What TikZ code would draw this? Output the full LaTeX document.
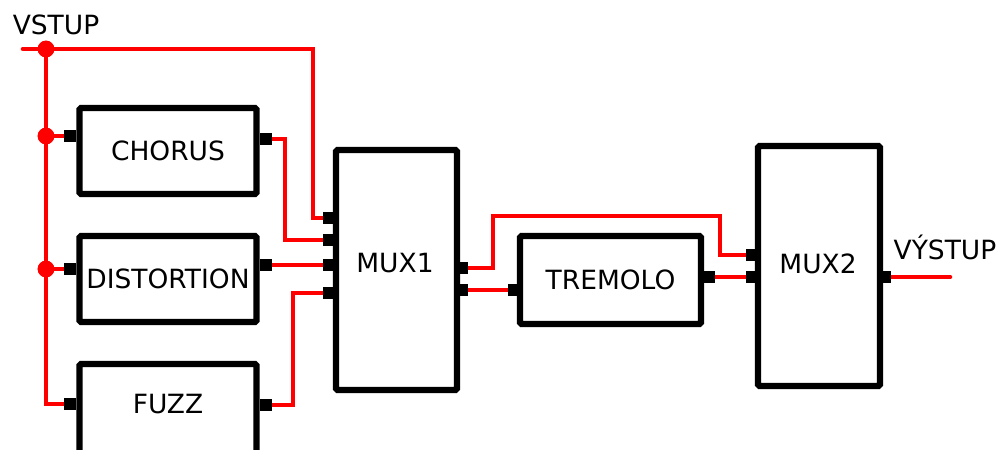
\documentclass[tikz,border=0pt]{standalone}
\usepackage{fontspec}
\setmainfont{DejaVu Sans}
\begin{document}
\begin{tikzpicture}[x=0.03cm,y=-0.03cm,
  box/.style={draw=black, line width=5.5pt, rounded corners=1.5pt, fill=white, font=\fontsize{22.6}{27}\selectfont, inner sep=0pt},
  port/.style={fill=black, minimum width=0.36cm, minimum height=0.36cm, inner sep=0pt, outer sep=0pt},
  wire/.style={draw=red, line width=3.9pt, line cap=round},
  dot/.style={circle, fill=red, minimum size=0.5cm, inner sep=0pt},
  lbl/.style={font=\fontsize{22.6}{27}\selectfont, inner sep=0pt}]
\useasboundingbox (0,0) rectangle (1003,450);
\clip (0,0) rectangle (1003,450);

% boxes
\node[box, minimum width=5.31cm, minimum height=2.58cm] (chorus) at (168,151) {CHORUS};
\node[box, minimum width=5.31cm, minimum height=2.58cm] (dist) at (168,279) {DISTORTION};
\node[box, minimum width=5.31cm, minimum height=3.6cm] (fuzz) at (168,424) {};
\node[lbl] (fuzzl) at (168,404) {FUZZ};
\node[box, minimum width=3.63cm, minimum height=7.2cm] (mux1) at (396.5,270) {};
\node[lbl] (mux1l) at (395,263) {MUX1};
\node[box, minimum width=5.43cm, minimum height=2.64cm] (trem) at (610.5,280) {TREMOLO};
\node[box, minimum width=3.66cm, minimum height=7.2cm] (mux2) at (819,266) {};
\node[lbl] (mux2l) at (818,264) {MUX2};

% labels
\node[lbl, anchor=base] (vstup) at (56,35) {VSTUP};
\node[lbl, anchor=base] (vystup) at (945,259) {VÝSTUP};

% ports
\node[port] (choin) at (70,136) {};
\node[port] (choout) at (266,139) {};
\node[port] (distin) at (70,269) {};
\node[port] (distout) at (266,265) {};
\node[port] (fuzzin) at (70,404) {};
\node[port] (fuzzout) at (266,405) {};
\node[port] (mai) at (329,218) {};
\node[port] (mbi) at (329,240) {};
\node[port] (mci) at (329,265) {};
\node[port] (mdi) at (329,293) {};
\node[port] (mao) at (462,268) {};
\node[port] (mbo) at (462,290) {};
\node[port] (tin) at (514,290) {};
\node[port] (tout) at (709,277) {};
\node[port] (nai) at (752,255) {};
\node[port] (nbi) at (752,277) {};
\node[port] (nout) at (885,277) {};

% junctions
\coordinate (vin) at (23,49);
\coordinate (vout) at (950,277);
\node[dot] (d0) at (46,49) {};
\node[dot] (d1) at (46,136) {};
\node[dot] (d2) at (46,269) {};

% wires
\draw[wire] (vin) -- (d0.center) -| ([xshift=-0.48cm]mai.center) -- (mai.center);
\draw[wire] (d0.center) -- (d1.center) -- (d2.center) |- (fuzzin.center);
\draw[wire] (d1.center) -- (choin.center);
\draw[wire] (d2.center) -- (distin.center);
\draw[wire] (choout.center) -| ([xshift=-1.32cm]mbi.center) -- (mbi.center);
\draw[wire] (distout.center) -- (mci.center);
\draw[wire] (fuzzout.center) -| ([xshift=-1.08cm]mdi.center) -- (mdi.center);
\draw[wire] (mao.center) -- ++(31,0) |- ([xshift=-0.96cm,yshift=1.17cm]nai.center) -- ([xshift=-0.96cm]nai.center) -- (nai.center);
\draw[wire] (mbo.center) -- (tin.center);
\draw[wire] (tout.center) -- (nbi.center);
\draw[wire] (nout.center) -- (vout);

% ports and dots on top of the wires
\foreach \p in {choin,choout,distin,distout,fuzzin,fuzzout,mai,mbi,mci,mdi,mao,mbo,tin,tout,nai,nbi,nout}
  \fill[black] (\p.south west) rectangle (\p.north east);
\foreach \d in {d0,d1,d2}
  \fill[red] (\d.center) circle (0.25cm);
\end{tikzpicture}
\end{document}
